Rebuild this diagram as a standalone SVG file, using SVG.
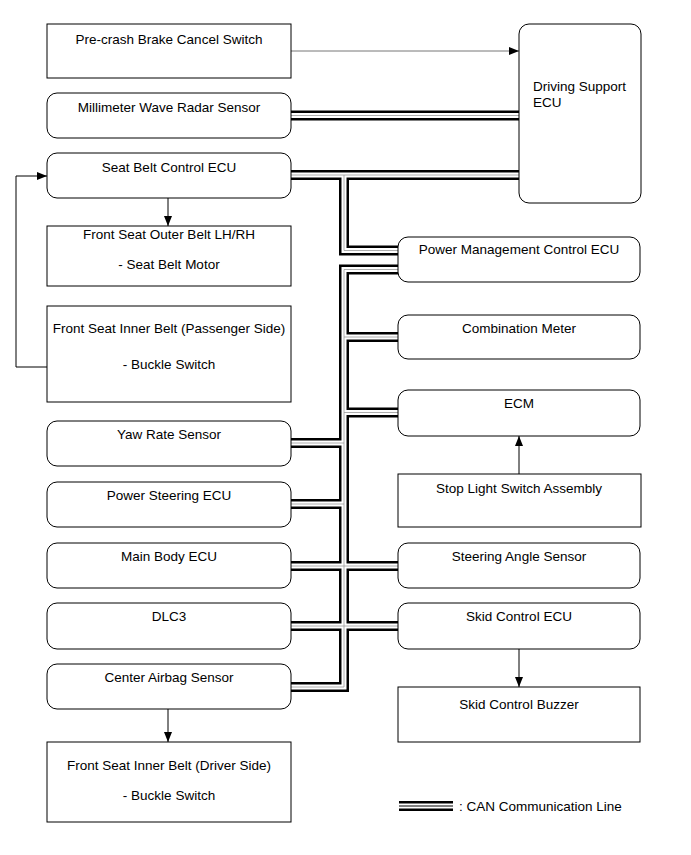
<svg xmlns="http://www.w3.org/2000/svg" width="691" height="855" viewBox="0 0 691 855">
<defs>
<style>
.box{fill:#fff;stroke:#000;stroke-width:1}
.t{font-family:"Liberation Sans",Arial,sans-serif;font-size:13.5px;fill:#000}
.c{text-anchor:middle}
.busK{fill:none;stroke:#000;stroke-width:10;stroke-linejoin:miter;stroke-linecap:butt}
.busW{fill:none;stroke:#fff;stroke-width:5;stroke-linejoin:miter;stroke-linecap:butt}
.busG{fill:none;stroke:#999;stroke-width:0.8;stroke-linejoin:miter;stroke-linecap:butt}
.arr{fill:none;stroke:#000;stroke-width:1;marker-end:url(#ah)}
.arrg{fill:none;stroke:#777;stroke-width:1;marker-end:url(#ah)}
</style>
<marker id="ah" viewBox="0 0 10 8" refX="10" refY="4" markerWidth="10" markerHeight="8" markerUnits="userSpaceOnUse" orient="auto">
<path d="M0,0 L10,4 L0,8 Z" fill="#000"/>
</marker>
</defs>
<rect width="691" height="855" fill="#fff"/>

<g id="connectors">
<path class="arrg" d="M291,51 H519"/>
<path class="arr" d="M168,198 V226"/>
<path class="arr" d="M47,367 H16 V176 H47"/>
<path class="arr" d="M519,474 V436"/>
<path class="arr" d="M519,649 V687"/>
<path class="arr" d="M168,709 V742"/>
<g id="can-bus">
<path class="busK" d="M291,115.5 H519 M291,175 H519 M344,175 V250.5 H398 M398,269.5 H344 V687 H291 M344,337 H398 M344,412.5 H398 M291,443 H344 M291,504 H344 M291,566 H398 M291,626 H398"/>
<path class="busW" d="M291,115.5 H519 M291,175 H519 M344,175 V250.5 H398 M398,269.5 H344 V687 H291 M344,337 H398 M344,412.5 H398 M291,443 H344 M291,504 H344 M291,566 H398 M291,626 H398"/>
<path class="busG" d="M291,115.5 H519 M291,175 H519 M344,175 V250.5 H398 M398,269.5 H344 V687 H291 M344,337 H398 M344,412.5 H398 M291,443 H344 M291,504 H344 M291,566 H398 M291,626 H398"/>
</g>
</g>

<g id="n-precrash"><rect class="box" x="47" y="24" width="244" height="54"/><text class="t c" x="169" y="44">Pre-crash Brake Cancel Switch</text></g>
<g id="n-mmw"><rect class="box" x="47" y="93" width="244" height="45" rx="10"/><text class="t c" x="169" y="112">Millimeter Wave Radar Sensor</text></g>
<g id="n-seatbelt"><rect class="box" x="47" y="153" width="244" height="45" rx="10"/><text class="t c" x="169" y="172">Seat Belt Control ECU</text></g>
<g id="n-outer"><rect class="box" x="47" y="226" width="244" height="60"/><text class="t c" x="169" y="239">Front Seat Outer Belt LH/RH</text><text class="t c" x="169" y="269">- Seat Belt Motor</text></g>
<g id="n-inner-p"><rect class="box" x="47" y="306" width="244" height="96"/><text class="t c" x="169" y="333">Front Seat Inner Belt (Passenger Side)</text><text class="t c" x="169" y="369">- Buckle Switch</text></g>
<g id="n-yaw"><rect class="box" x="47" y="421" width="244" height="45" rx="10"/><text class="t c" x="169" y="439">Yaw Rate Sensor</text></g>
<g id="n-ps"><rect class="box" x="47" y="482" width="244" height="45" rx="10"/><text class="t c" x="169" y="500">Power Steering ECU</text></g>
<g id="n-mainbody"><rect class="box" x="47" y="543" width="244" height="45" rx="10"/><text class="t c" x="169" y="561">Main Body ECU</text></g>
<g id="n-dlc3"><rect class="box" x="47" y="603" width="244" height="46" rx="10"/><text class="t c" x="169" y="621">DLC3</text></g>
<g id="n-airbag"><rect class="box" x="47" y="664" width="244" height="45" rx="10"/><text class="t c" x="169" y="682">Center Airbag Sensor</text></g>
<g id="n-inner-d"><rect class="box" x="47" y="742" width="244" height="80"/><text class="t c" x="169" y="770">Front Seat Inner Belt (Driver Side)</text><text class="t c" x="169" y="800">- Buckle Switch</text></g>

<g id="n-dsecu"><rect class="box" x="519" y="24" width="122" height="179" rx="10"/><text class="t" x="533" y="91">Driving Support</text><text class="t" x="533" y="107">ECU</text></g>
<g id="n-pm"><rect class="box" x="398" y="237" width="242" height="45" rx="10"/><text class="t c" x="519" y="254">Power Management Control ECU</text></g>
<g id="n-meter"><rect class="box" x="398" y="315" width="242" height="44" rx="10"/><text class="t c" x="519" y="333">Combination Meter</text></g>
<g id="n-ecm"><rect class="box" x="398" y="390" width="242" height="46" rx="10"/><text class="t c" x="519" y="408">ECM</text></g>
<g id="n-stop"><rect class="box" x="398" y="474" width="243" height="53"/><text class="t c" x="519" y="493">Stop Light Switch Assembly</text></g>
<g id="n-steer"><rect class="box" x="398" y="543" width="242" height="45" rx="10"/><text class="t c" x="519" y="561">Steering Angle Sensor</text></g>
<g id="n-skid"><rect class="box" x="398" y="603" width="242" height="46" rx="10"/><text class="t c" x="519" y="621">Skid Control ECU</text></g>
<g id="n-buzzer"><rect class="box" x="398" y="687" width="242" height="55"/><text class="t c" x="519" y="709">Skid Control Buzzer</text></g>

<g id="legend">
<path class="busK" d="M399,806 H453"/>
<path class="busW" d="M399,806 H453"/>
<path d="M399,806 H453" stroke="#000" stroke-width="1" fill="none"/>
<text class="t" x="459" y="811">: CAN Communication Line</text>
</g>
</svg>
